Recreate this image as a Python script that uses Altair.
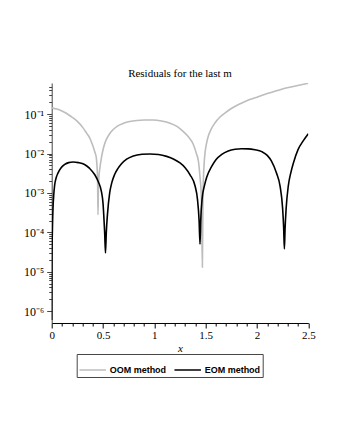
import altair as alt
import pandas as pd

# OOM method (gray) residuals
oom_x = [0.00, 0.05, 0.10, 0.15, 0.19, 0.25, 0.30, 0.34, 0.37, 0.386, 0.40, 0.42, 0.435, 0.442,
         0.447, 0.451, 0.455, 0.460, 0.468, 0.484, 0.50, 0.52, 0.54, 0.568, 0.60, 0.64, 0.70,
         0.76, 0.83, 0.90, 0.99, 1.07, 1.153, 1.22, 1.283, 1.33, 1.38, 1.41, 1.43, 1.445, 1.458,
         1.468, 1.474, 1.478, 1.486, 1.494, 1.51, 1.526, 1.55, 1.59, 1.64, 1.69, 1.75, 1.82,
         1.90, 1.98, 2.08, 2.16, 2.24, 2.33, 2.42, 2.50]
oom_y = [0.145, 0.135, 0.120, 0.103, 0.087, 0.066, 0.047, 0.033, 0.025, 0.020, 0.016, 0.011,
         0.0077, 0.0045, 0.0022, 0.00028, 0.0012, 0.0025, 0.0040, 0.0077, 0.0125, 0.019, 0.025,
         0.033, 0.041, 0.050, 0.059, 0.065, 0.069, 0.071, 0.071, 0.067, 0.059, 0.049, 0.036,
         0.027, 0.017, 0.010, 0.0063, 0.0025, 0.0008, 0.000013, 0.0008, 0.0022, 0.006, 0.0105,
         0.019, 0.028, 0.040, 0.060, 0.085, 0.108, 0.14, 0.176, 0.22, 0.26, 0.32, 0.37, 0.43,
         0.49, 0.55, 0.61]

# EOM method (black) residuals
eom_x = [0.0, 0.003, 0.007, 0.013, 0.020, 0.029, 0.045, 0.061, 0.09, 0.127, 0.165, 0.208, 0.26,
         0.32, 0.37, 0.42, 0.455, 0.484, 0.50, 0.507, 0.516, 0.524, 0.532, 0.543, 0.565, 0.585,
         0.614, 0.646, 0.68, 0.73, 0.795, 0.88, 0.958, 1.04, 1.12, 1.19, 1.25, 1.30, 1.348,
         1.397, 1.42, 1.436, 1.445, 1.452, 1.465, 1.49, 1.51, 1.56, 1.60, 1.657, 1.72, 1.787,
         1.85, 1.916, 1.98, 2.047, 2.10, 2.14, 2.19, 2.225, 2.25, 2.26, 2.267, 2.274, 2.284,
         2.305, 2.33, 2.355, 2.40, 2.45, 2.50]
eom_y = [6e-7, 3e-5, 1.2e-4, 4.3e-4, 9e-4, 1.6e-3, 2.5e-3, 3.2e-3, 4.3e-3, 5.3e-3, 5.9e-3,
         6.1e-3, 5.9e-3, 5.3e-3, 4.2e-3, 2.9e-3, 1.9e-3, 1.1e-3, 5.5e-4, 2.8e-4, 1e-4, 3e-5,
         1e-4, 2.8e-4, 1.0e-3, 1.8e-3, 3.0e-3, 4.2e-3, 5.5e-3, 7.2e-3, 8.7e-3, 9.6e-3, 9.8e-3,
         9.5e-3, 8.5e-3, 7.2e-3, 5.8e-3, 4.4e-3, 2.9e-3, 1.5e-3, 7e-4, 2e-4, 5e-5, 2e-4, 7e-4,
         1.6e-3, 2.5e-3, 4.8e-3, 7e-3, 9.6e-3, 1.17e-2, 1.29e-2, 1.33e-2, 1.32e-2, 1.25e-2,
         1.12e-2, 9e-3, 6.5e-3, 3.2e-3, 1.5e-3, 4e-4, 1.3e-4, 3.8e-5, 1.3e-4, 4e-4, 1.5e-3,
         3.3e-3, 5.8e-3, 1.26e-2, 2.1e-2, 3.2e-2]

series_names = ["OOM method", "EOM method"]
series_colors = ["#bdbdbd", "#000000"]

y_major = [1e-6, 1e-5, 1e-4, 1e-3, 1e-2, 1e-1]
y_labels = ["10⁻⁶", "10⁻⁵", "10⁻⁴", "10⁻³", "10⁻²", "10⁻¹"]
x_labels = ["0", "0.5", "1", "1.5", "2", "2.5"]

rows = []
for i, (xx, yy) in enumerate(zip(oom_x, oom_y)):
    rows.append({"x": xx, "y": yy, "series": series_names[0], "order": i})
for i, (xx, yy) in enumerate(zip(eom_x, eom_y)):
    rows.append({"x": xx, "y": yy, "series": series_names[1], "order": i})
df = pd.DataFrame(rows)

y_vals = []
for d in y_major:
    for m in range(1, 10):
        v = d * m
        if v <= 0.6:
            y_vals.append(v)
x_vals = [round(i * 0.1, 1) for i in range(26)]

label_arr = "[" + ",".join("'" + s + "'" for s in y_labels) + "]"
y_major_test = "abs(datum.value / pow(10, round(log(datum.value)/LN10)) - 1) < 0.01"
y_label_expr = y_major_test + " ? " + label_arr + "[round(log(datum.value)/LN10) + 6] : ''"
x_major_test = "abs(datum.value*2 - round(datum.value*2)) < 0.01"
x_label_expr = x_major_test + " ? ['" + "','".join(x_labels) + "'][round(datum.value*2)] : ''"

serif = "Liberation Serif"

chart = alt.Chart(df).mark_line(strokeWidth=1.6, clip=True, interpolate="monotone").encode(
    x=alt.X("x:Q", scale=alt.Scale(domain=[0, 2.5], nice=False, zero=False),
            axis=alt.Axis(values=x_vals, labelExpr=x_label_expr, title="x",
                          titleFont=serif, titleFontStyle="italic", titleFontWeight="normal",
                          titleFontSize=11, titlePadding=2,
                          labelFont=serif, labelFontSize=11, labelColor="black",
                          domainColor="black", tickColor="black",
                          tickSize={"condition": {"test": x_major_test, "value": 5}, "value": 3},
                          labelPadding=2, grid=False, labelFlush=False, labelOverlap=False)),
    y=alt.Y("y:Q", scale=alt.Scale(type="log", domain=[5e-7, 0.62], nice=False),
            axis=alt.Axis(values=y_vals, labelExpr=y_label_expr, title=None,
                          labelFont=serif, labelFontSize=12, labelColor="black",
                          domainColor="#444444", tickColor="#444444",
                          tickSize={"condition": {"test": y_major_test, "value": 5}, "value": 3},
                          labelPadding=3, grid=False, labelOverlap=False)),
    color=alt.Color("series:N", scale=alt.Scale(domain=series_names, range=series_colors),
                    legend=alt.Legend(title=None, orient="none", legendX=25, legendY=271,
                                      direction="horizontal", symbolType="stroke",
                                      symbolSize=700, symbolStrokeWidth=1.5,
                                      labelFont="Liberation Sans", labelFontWeight="bold",
                                      labelFontSize=9, labelColor="black",
                                      strokeColor="#444444", padding=2, columnPadding=4,
                                      labelOffset=3)),
    order="order:Q",
).properties(
    width=256.6, height=240,
    title=alt.TitleParams("Residuals for the last m", font=serif, fontSize=11,
                          fontWeight="normal", color="black", offset=2, anchor="middle"),
    autosize=alt.AutoSizeParams(type="none"),
    padding={"left": 43.7, "top": 75, "right": 16, "bottom": 100},
).configure_view(stroke=None)

chart.save("out.html", embed_options={"renderer": "svg", "actions": False})
